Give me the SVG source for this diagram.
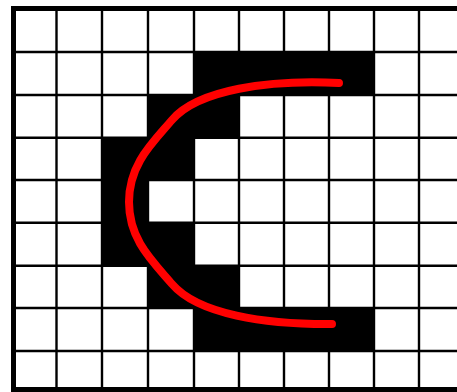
<svg xmlns="http://www.w3.org/2000/svg" width="457" height="392" viewBox="0 0 457 392">
<style>
.cell{fill:#000}
.grid line{stroke:#000;stroke-width:2.4}
.border{fill:#000}
.curve{fill:none;stroke:#ff0000;stroke-width:8;stroke-linecap:round;stroke-linejoin:round}
</style>
<rect x="0" y="0" width="457" height="392" fill="#fff"/>
<g id="cells">
<rect class="cell" x="194" y="52" width="180" height="43"/>
<rect class="cell" x="148" y="95" width="91" height="42.7"/>
<rect class="cell" x="102" y="137.7" width="92" height="42.3"/>
<rect class="cell" x="102" y="180" width="46" height="42.7"/>
<rect class="cell" x="102" y="222.7" width="92" height="43"/>
<rect class="cell" x="148" y="265.7" width="91" height="42.3"/>
<rect class="cell" x="194" y="308" width="180" height="43"/>
</g>
<g id="grid" class="grid">
<line x1="56.5" y1="8" x2="56.5" y2="392"/>
<line x1="102" y1="8" x2="102" y2="392"/>
<line x1="148" y1="8" x2="148" y2="392"/>
<line x1="194" y1="8" x2="194" y2="392"/>
<line x1="239" y1="8" x2="239" y2="392"/>
<line x1="284" y1="8" x2="284" y2="392"/>
<line x1="329" y1="8" x2="329" y2="392"/>
<line x1="374" y1="8" x2="374" y2="392"/>
<line x1="419" y1="8" x2="419" y2="392"/>
<line x1="11" y1="52" x2="457" y2="52"/>
<line x1="11" y1="95" x2="457" y2="95"/>
<line x1="11" y1="137.7" x2="457" y2="137.7"/>
<line x1="11" y1="180" x2="457" y2="180"/>
<line x1="11" y1="222.7" x2="457" y2="222.7"/>
<line x1="11" y1="265.7" x2="457" y2="265.7"/>
<line x1="11" y1="308" x2="457" y2="308"/>
<line x1="11" y1="351" x2="457" y2="351"/>
</g>
<g id="frame">
<rect class="border" x="11" y="6" width="446" height="5"/>
<rect class="border" x="11" y="6" width="5" height="386"/>
<rect class="border" x="11" y="387" width="446" height="5"/>
</g>
<g id="connectors">
<path class="curve" d="M339,83 C269,79.5 198,89.6 172,120 C152.5,142.8 129,164 129,202 C129,240 152.5,261.2 172,284 C198,314.4 265,324.5 332,324"/>
</g>
</svg>
